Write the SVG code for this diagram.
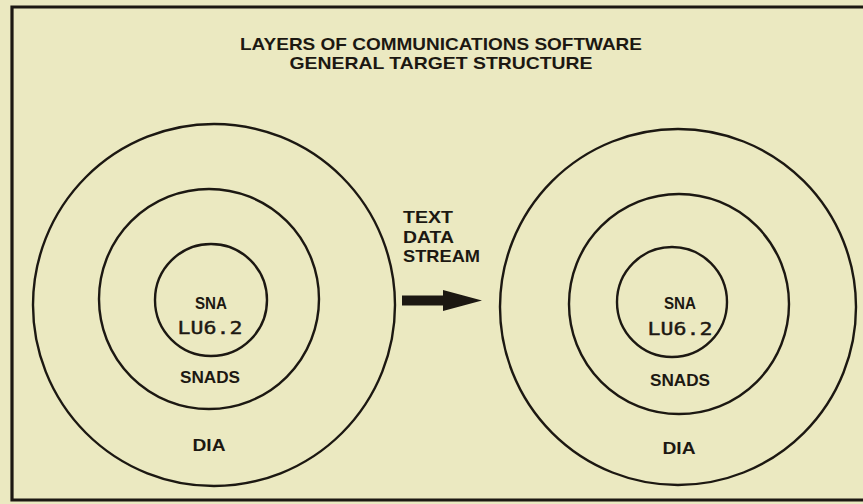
<svg xmlns="http://www.w3.org/2000/svg" width="863" height="504" viewBox="0 0 863 504">
  <style>
    .ring { fill: none; stroke: #1c1812; stroke-width: 2.4; }
    .frame { fill: none; stroke: #1c1812; stroke-width: 3.2; }
    .lbl { font-family: "Liberation Sans", Arial, sans-serif; font-weight: bold; fill: #1c1812; text-anchor: middle; }
    .lft { text-anchor: start; }
    .mono { font-family: "DejaVu Sans Mono", "Liberation Mono", monospace; fill: #1c1812; stroke: #1c1812; stroke-width: 0.4; text-anchor: middle; }
    .arrow { fill: #1c1812; }
  </style>
  <rect width="863" height="504" fill="#ebe9c1"/>

  <!-- page frame -->
  <g id="frame">
    <path class="frame" d="M863,7 L12,7 L12,500 L863,500"/>
  </g>

  <!-- heading -->
  <g id="title">
    <text class="lbl" x="441" y="50" font-size="17" textLength="402" lengthAdjust="spacingAndGlyphs">LAYERS OF COMMUNICATIONS SOFTWARE</text>
    <text class="lbl" x="441" y="69" font-size="17" textLength="303" lengthAdjust="spacingAndGlyphs">GENERAL TARGET STRUCTURE</text>
  </g>

  <!-- left layer stack -->
  <g id="stack-left">
    <circle class="ring" cx="214" cy="305" r="181"/>
    <circle class="ring" cx="209" cy="299" r="110"/>
    <circle class="ring" cx="211" cy="300" r="56"/>
    <text class="lbl" x="211" y="309" font-size="16" textLength="32" lengthAdjust="spacingAndGlyphs">SNA</text>
    <text class="mono" x="210" y="334" font-size="18" textLength="65" lengthAdjust="spacingAndGlyphs">LU6.2</text>
    <text class="lbl" x="210" y="383" font-size="16" textLength="60" lengthAdjust="spacingAndGlyphs">SNADS</text>
    <text class="lbl" x="209" y="451" font-size="16" textLength="33" lengthAdjust="spacingAndGlyphs">DIA</text>
  </g>

  <!-- right layer stack -->
  <g id="stack-right">
    <circle class="ring" cx="678" cy="307" r="178"/>
    <circle class="ring" cx="679" cy="304" r="110"/>
    <circle class="ring" cx="672" cy="302" r="55"/>
    <text class="lbl" x="680" y="309" font-size="16" textLength="32" lengthAdjust="spacingAndGlyphs">SNA</text>
    <text class="mono" x="680" y="335" font-size="18" textLength="65" lengthAdjust="spacingAndGlyphs">LU6.2</text>
    <text class="lbl" x="680" y="386" font-size="16" textLength="60" lengthAdjust="spacingAndGlyphs">SNADS</text>
    <text class="lbl" x="679" y="454" font-size="16" textLength="33" lengthAdjust="spacingAndGlyphs">DIA</text>
  </g>

  <!-- flow label -->
  <g id="stream-label">
    <text class="lbl lft" x="403" y="223" font-size="17" textLength="50" lengthAdjust="spacingAndGlyphs">TEXT</text>
    <text class="lbl lft" x="403" y="243" font-size="17" textLength="51" lengthAdjust="spacingAndGlyphs">DATA</text>
    <text class="lbl lft" x="403" y="262" font-size="17" textLength="77" lengthAdjust="spacingAndGlyphs">STREAM</text>
  </g>

  <g id="connectors">
    <path class="arrow" d="M402,295.5 L443,295.5 L443,290 L482,300.5 L443,311 L443,305.5 L402,305.5 Z"/>
  </g>
</svg>
